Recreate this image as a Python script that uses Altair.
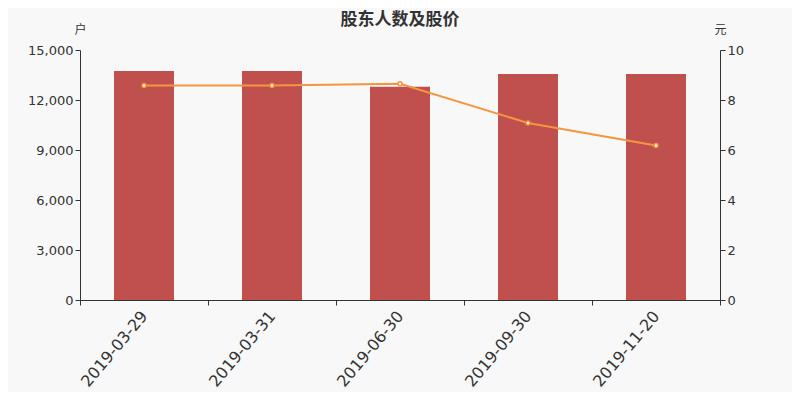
import altair as alt
import pandas as pd

dates = ["2019-03-29", "2019-03-31", "2019-06-30", "2019-09-30", "2019-11-20"]
holders = [13740, 13740, 12790, 13560, 13560]
prices = [8.58, 8.58, 8.65, 7.08, 6.18]

df = pd.DataFrame({"date": dates, "holders": holders, "price": prices})

x = alt.X("date:N", sort=dates, title=None,
          scale=alt.Scale(paddingInner=0, paddingOuter=0),
          axis=alt.Axis(labelAngle=-50, labelAlign="right", labelBaseline="middle",
                        labelFontSize=16, labelColor="#333", tickBand="extent",
                        domainColor="#333", tickColor="#333", tickSize=5,
                        labelPadding=8, grid=False, labelFont="DejaVu Sans"))

bars = alt.Chart(df).mark_bar(color="#c0504d", size=60).encode(
    x=x,
    y=alt.Y("holders:Q", scale=alt.Scale(domain=[0, 15000]),
            axis=alt.Axis(values=[0, 3000, 6000, 9000, 12000, 15000], format=",.0f",
                          title="户", titleAngle=0, titleX=0, titleY=-14,
                          titleAlign="center", titleFontWeight="normal",
                          titleFontSize=12, titleColor="#333",
                          labelFontSize=13, labelColor="#333", domainColor="#333",
                          tickColor="#333", tickSize=5, grid=False,
                          labelFont="DejaVu Sans", titleFont="Noto Sans CJK SC")),
)

line = alt.Chart(df).mark_line(
    color="#f7943f", strokeWidth=2,
    point=alt.OverlayMarkDef(filled=True, fill="white", stroke="#f7943f",
                             strokeWidth=1.5, size=16, opacity=1),
).encode(
    x=x,
    y=alt.Y("price:Q", scale=alt.Scale(domain=[0, 10]),
            axis=alt.Axis(orient="right", values=[0, 2, 4, 6, 8, 10],
                          title="元", titleAngle=0, titleX=0, titleY=-14,
                          titleAlign="center", titleFontWeight="normal",
                          titleFontSize=12, titleColor="#333",
                          labelFontSize=13, labelColor="#333", domainColor="#333",
                          tickColor="#333", tickSize=5, grid=False,
                          labelFont="DejaVu Sans", titleFont="Noto Sans CJK SC")),
)

chart = alt.layer(bars, line).resolve_scale(y="independent").properties(
    width=640, height=250,
    autosize=alt.AutoSizeParams(type="none"),
    padding={"left": 72, "top": 42, "right": 72, "bottom": 92},
    background="#f8f8f8",
    title=alt.TitleParams("股东人数及股价", fontSize=17, font="Noto Sans CJK SC",
                          fontWeight="bold", color="#333", anchor="middle", offset=-6),
).configure_view(stroke=None)

chart.save("out.html", embed_options={"renderer": "svg", "actions": False})
